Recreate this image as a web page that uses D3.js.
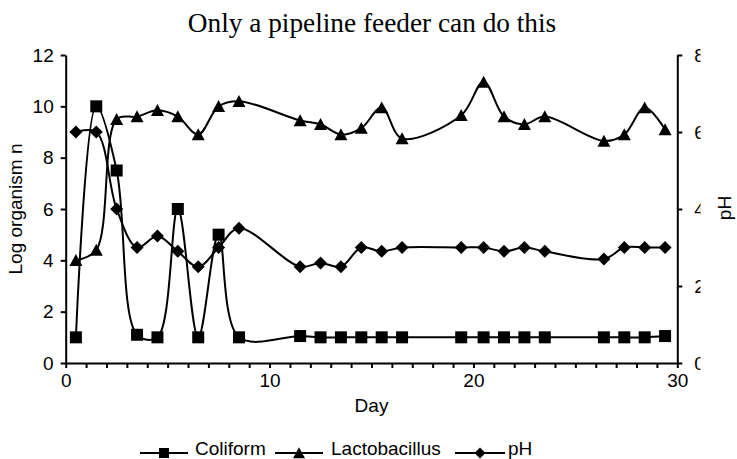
<!DOCTYPE html>
<html>
<head>
<meta charset="utf-8">
<script src="https://cdn.jsdelivr.net/npm/d3@7"></script>
<style>
  html, body { margin: 0; padding: 0; background: #fff; }
  svg { display: block; }
  text { font-family: "Liberation Sans", Arial, sans-serif; fill: #000; }
</style>
</head>
<body>
<svg id="chart" width="737" height="459"></svg>
<script>
// ---- data ----
const days = [0.5,1.5,2.5,3.5,4.5,5.5,6.5,7.5,8.5,11.5,12.5,13.5,14.5,15.5,16.5,19.4,20.5,21.5,22.5,23.5,26.4,27.4,28.4,29.4];
const coliform = [1,10,7.5,1.1,1,6,1,5,1,1.05,1,1,1,1,1,1,1,1,1,1,1,1,1,1.05];
const lactobacillus = [4,4.4,9.5,9.6,9.85,9.6,8.9,10,10.2,9.45,9.3,8.9,9.15,9.95,8.75,9.65,10.95,9.6,9.3,9.6,8.65,8.9,9.95,9.1];
const pH = [6,6,4,3,3.3,2.9,2.5,3,3.5,2.5,2.6,2.5,3,2.9,3,3,3,2.9,3,2.9,2.7,3,3,3];
const xTicks = [0,10,20,30];
const yLeftTicks = [0,2,4,6,8,10,12];
const yRightTicks = [0,2,4,6,8];
const seriesNames = ["Coliform","Lactobacillus","pH"];
const titleText = "Only a pipeline feeder can do this";

// ---- layout ----
const svg = d3.select("#chart");
const L = 65.7, R = 677.3, T = 55, B = 363;
const x = d3.scaleLinear().domain([0,30]).range([L,R]);
const yL = d3.scaleLinear().domain([0,12]).range([B,T]);
const yR = d3.scaleLinear().domain([0,8]).range([B,T]);
const FS = 19;

svg.append("rect").attr("width",737).attr("height",459).attr("fill","#fff");

// title
svg.append("text").attr("x",372).attr("y",31.5).attr("text-anchor","middle")
  .style("font-family",'"Liberation Serif","Times New Roman",serif').style("font-size","27.3px")
  .text(titleText);

// axes
function styleAxis(g){
  g.select(".domain").attr("stroke","#000").attr("stroke-width",2);
  g.selectAll(".tick line").attr("stroke","#000").attr("stroke-width",2);
  g.selectAll(".tick text").style("font-size",FS+"px").style("font-family",'"Liberation Sans",Arial,sans-serif');
}
const xAxis = svg.append("g").attr("transform",`translate(0,${B})`)
  .call(d3.axisBottom(x).tickValues(d3.range(0,31,1)).tickSize(5).tickPadding(6).tickSizeOuter(0)
    .tickFormat(d => xTicks.includes(d) ? d : ""));
styleAxis(xAxis);

const yAxisL = svg.append("g").attr("transform",`translate(${L},0)`)
  .call(d3.axisLeft(yL).tickValues(yLeftTicks).tickSize(5).tickPadding(7).tickSizeOuter(0));
styleAxis(yAxisL);

const yAxisR = svg.append("g").attr("transform",`translate(${R},0)`)
  .call(d3.axisRight(yR).tickValues(yRightTicks).tickSize(5).tickPadding(12).tickSizeOuter(0));
styleAxis(yAxisR);
// the reference cuts the right-hand tick labels at about x = 700.5
svg.append("clipPath").attr("id","rclip").append("rect")
  .attr("x",R).attr("y",0).attr("width",700.5-R).attr("height",459);
const rLabels = svg.append("g").attr("clip-path","url(#rclip)");
yAxisR.selectAll(".tick text").each(function(){
  const t = d3.select(this);
  const tick = d3.select(this.parentNode);
  const m = /translate\(([^,]+),([^)]+)\)/.exec(tick.attr("transform"));
  const ty = m ? +m[2] : 0;
  rLabels.append("text").attr("x",R + (+t.attr("x"))).attr("y",ty).attr("dy",t.attr("dy"))
    .style("font-size",FS+"px").text(t.text());
  t.remove();
});

// axis titles
svg.append("text").attr("transform",`translate(22,${(T+B)/2}) rotate(-90)`)
  .attr("text-anchor","middle").style("font-size",FS+"px").text("Log organism n");
svg.append("text").attr("transform",`translate(731,${(T+B)/2 - 1}) rotate(-90)`)
  .attr("text-anchor","middle").style("font-size",FS+"px").text("pH");
svg.append("text").attr("x",(L+R)/2).attr("y",412).attr("text-anchor","middle")
  .style("font-size",FS+"px").text("Day");

// markers
const markers = {
  square: s => `M${-s/2},${-s/2}h${s}v${s}h${-s}Z`,
  triangle: s => `M0,${-s*0.48}L${s/2},${s*0.44}L${-s/2},${s*0.44}Z`,
  diamond: s => `M0,${-s/2}L${s/2},0L0,${s/2}L${-s/2},0Z`
};

const curve = d3.curveCatmullRom.alpha(0.5);
const series = [
  {name: seriesNames[0], vals: coliform, y: yL, m: "square", size: 12},
  {name: seriesNames[1], vals: lactobacillus, y: yL, m: "triangle", size: 13},
  {name: seriesNames[2], vals: pH, y: yR, m: "diamond", size: 13}
];

series.forEach(s => {
  const pts = days.map((d,i) => [d, s.vals[i]]);
  const line = d3.line().x(p => x(p[0])).y(p => s.y(p[1])).curve(curve);
  svg.append("path").datum(pts).attr("d",line).attr("fill","none")
    .attr("stroke","#000").attr("stroke-width",2);
  svg.append("g").selectAll("path").data(pts).join("path")
    .attr("transform", p => `translate(${x(p[0])},${s.y(p[1])})`)
    .attr("d", markers[s.m](s.size)).attr("fill","#000");
});

// legend
const legendItems = [
  {name: seriesNames[0], m: "square", size: 10, x1: 140, x2: 188, tx: 195},
  {name: seriesNames[1], m: "triangle", size: 12, x1: 275, x2: 323, tx: 331},
  {name: seriesNames[2], m: "diamond", size: 11, x1: 455, x2: 505, tx: 508}
];
const ly = 453;
const lg = svg.append("g");
legendItems.forEach(it => {
  lg.append("line").attr("x1",it.x1).attr("x2",it.x2).attr("y1",ly).attr("y2",ly)
    .attr("stroke","#000").attr("stroke-width",2);
  lg.append("path").attr("transform",`translate(${(it.x1+it.x2)/2},${ly})`)
    .attr("d",markers[it.m](it.size)).attr("fill","#000");
  lg.append("text").attr("x",it.tx).attr("y",ly+2).style("font-size",FS+"px").text(it.name);
});
</script>
</body>
</html>
